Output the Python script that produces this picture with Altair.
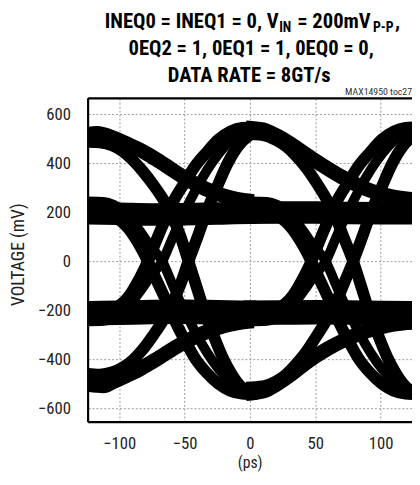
import altair as alt
import pandas as pd

# ---------------- data ----------------
X_TICKS = [-100, -50, 0, 50, 100]          # ps
Y_TICKS = [-600, -400, -200, 0, 200, 400, 600]  # mV

# left unit interval (-125 ps .. 0 ps)
L_HIGH_DECAY_T = [-126, -117, -105, -95, -85, -75, -65, -55, -45, -35, -25, -15, -5, 3]
L_HIGH_DECAY_V = [518, 522, 505, 482, 457, 427, 393, 358, 325, 298, 276, 260, 249, 244]
L_LOW_DECAY_T = [-126, -112, -105, -95, -85, -75, -65, -55, -45, -35, -25, -15, -5, 3]
L_LOW_DECAY_V = [-500, -508, -492, -468, -442, -411, -378, -345, -316, -292, -272, -257, -247, -243]
L_STEADY_HIGH_T = [-126, -100, -75, -50, -25, 0, 5]
L_STEADY_HIGH_V = [196, 194, 191, 192, 195, 198, 198]
L_STEADY_LOW_T = [-126, -100, -75, -50, -25, 0, 5]
L_STEADY_LOW_V = [-212, -210, -207, -206, -208, -210, -210]
L_FALL_PEAK_T = [-126, -115, -105, -97, -90, -82, -74, -66, -59, -53, -47, -41, -35, -28, -21, -14, -7, 0, 6]
L_FALL_PEAK_V = [488, 485, 472, 448, 415, 368, 313, 250, 180, 100, 0, -100, -200, -300, -390, -460, -510, -535, -540]
L_RISE_TROUGH_T = [-126, -115, -105, -97, -90, -82, -74, -66, -59, -53, -47, -40, -33, -25, -17, -9, -1, 7]
L_RISE_TROUGH_V = [-458, -462, -452, -432, -405, -360, -302, -237, -167, -92, 0, 100, 205, 305, 400, 470, 512, 530]
L_FALL_STEADY_T = [-126, -112, -104, -98, -92, -87, -82, -78, -72, -65, -58, -50, -42, -33, -24, -15, -6, 3]
L_FALL_STEADY_V = [196, 194, 182, 162, 128, 88, 42, 0, -70, -150, -235, -320, -395, -455, -500, -528, -540, -542]
L_RISE_STEADY_T = [-126, -112, -104, -98, -92, -87, -82, -78, -72, -65, -58, -50, -42, -33, -24, -15, -6, 3]
L_RISE_STEADY_V = [-210, -207, -195, -173, -138, -95, -45, 0, 80, 168, 250, 320, 388, 445, 497, 530, 545, 547]
L_FALL_DECAYED_T = [-126, -112, -104, -97, -90, -83, -76, -67, -60, -53, -45, -37, -28, -19, -10, -1, 6]
L_FALL_DECAYED_V = [245, 243, 230, 205, 165, 115, 60, 0, -85, -170, -255, -335, -410, -470, -515, -538, -545]
L_RISE_DECAYED_T = [-126, -112, -104, -97, -90, -83, -76, -67, -60, -53, -45, -37, -28, -19, -10, -1, 6]
L_RISE_DECAYED_V = [-245, -243, -230, -205, -165, -115, -60, 0, 85, 170, 255, 335, 410, 470, 515, 538, 545]

# right unit interval (0 ps .. 125 ps)
R_HIGH_DECAY_T = [-3, 10, 20, 30, 40, 50, 60, 70, 80, 90, 100, 110, 120, 126]
R_HIGH_DECAY_V = [545, 537, 514, 483, 447, 411, 377, 345, 317, 293, 275, 263, 255, 252]
R_LOW_DECAY_T = [-3, 10, 20, 30, 40, 50, 60, 70, 80, 90, 100, 110, 120, 126]
R_LOW_DECAY_V = [-540, -530, -503, -467, -426, -388, -355, -327, -303, -283, -268, -257, -250, -248]
R_STEADY_HIGH_T = [-5, 25, 50, 75, 100, 126]
R_STEADY_HIGH_V = [198, 199, 199, 197, 196, 196]
R_STEADY_LOW_T = [-5, 25, 50, 75, 100, 126]
R_STEADY_LOW_V = [-210, -209, -208, -209, -211, -212]
R_FALL_PEAK_T = [-3, 10, 20, 28, 35, 43, 51, 59, 66, 72, 79, 85, 91, 98, 105, 112, 119, 126]
R_FALL_PEAK_V = [520, 515, 495, 468, 432, 382, 320, 250, 175, 95, 0, -100, -200, -300, -390, -460, -510, -535]
R_RISE_TROUGH_T = [-3, 10, 20, 28, 35, 43, 51, 59, 66, 72, 79, 86, 93, 101, 109, 117, 125]
R_RISE_TROUGH_V = [-515, -510, -490, -460, -422, -370, -305, -237, -165, -90, 0, 100, 205, 305, 400, 470, 512]
R_FALL_STEADY_T = [-1, 13, 21, 27, 33, 38, 43, 47, 53, 60, 67, 75, 83, 92, 101, 110, 119, 126]
R_FALL_STEADY_V = [198, 196, 184, 163, 128, 88, 42, 0, -70, -150, -235, -320, -395, -455, -500, -528, -540, -542]
R_RISE_STEADY_T = [-1, 13, 21, 27, 33, 38, 43, 47, 53, 60, 67, 75, 83, 92, 101, 110, 119, 126]
R_RISE_STEADY_V = [-210, -207, -195, -173, -138, -95, -45, 0, 80, 168, 250, 320, 388, 445, 497, 530, 545, 547]
R_FALL_DECAYED_T = [-1, 13, 21, 28, 35, 42, 49, 58, 65, 72, 80, 88, 97, 106, 115, 122, 128]
R_FALL_DECAYED_V = [245, 243, 230, 205, 165, 115, 60, 0, -85, -170, -255, -335, -410, -470, -515, -538, -545]
R_RISE_DECAYED_T = [-1, 13, 21, 28, 35, 42, 49, 58, 65, 72, 80, 88, 97, 106, 115, 122, 128]
R_RISE_DECAYED_V = [-245, -243, -230, -205, -165, -115, -60, 0, 85, 170, 255, 335, 410, 470, 515, 538, 545]

SEGMENTS = [
    ("L_high_decay", L_HIGH_DECAY_T, L_HIGH_DECAY_V, 15),
    ("L_low_decay", L_LOW_DECAY_T, L_LOW_DECAY_V, 15),
    ("L_steady_high", L_STEADY_HIGH_T, L_STEADY_HIGH_V, 23),
    ("L_steady_low", L_STEADY_LOW_T, L_STEADY_LOW_V, 25),
    ("L_fall_peak", L_FALL_PEAK_T, L_FALL_PEAK_V, 12),
    ("L_rise_trough", L_RISE_TROUGH_T, L_RISE_TROUGH_V, 12),
    ("L_fall_steady", L_FALL_STEADY_T, L_FALL_STEADY_V, 12),
    ("L_rise_steady", L_RISE_STEADY_T, L_RISE_STEADY_V, 12),
    ("L_fall_decayed", L_FALL_DECAYED_T, L_FALL_DECAYED_V, 10),
    ("L_rise_decayed", L_RISE_DECAYED_T, L_RISE_DECAYED_V, 10),
    ("R_high_decay", R_HIGH_DECAY_T, R_HIGH_DECAY_V, 15),
    ("R_low_decay", R_LOW_DECAY_T, R_LOW_DECAY_V, 15),
    ("R_steady_high", R_STEADY_HIGH_T, R_STEADY_HIGH_V, 23),
    ("R_steady_low", R_STEADY_LOW_T, R_STEADY_LOW_V, 25),
    ("R_fall_peak", R_FALL_PEAK_T, R_FALL_PEAK_V, 12),
    ("R_rise_trough", R_RISE_TROUGH_T, R_RISE_TROUGH_V, 12),
    ("R_fall_steady", R_FALL_STEADY_T, R_FALL_STEADY_V, 12),
    ("R_rise_steady", R_RISE_STEADY_T, R_RISE_STEADY_V, 12),
    ("R_fall_decayed", R_FALL_DECAYED_T, R_FALL_DECAYED_V, 10),
    ("R_rise_decayed", R_RISE_DECAYED_T, R_RISE_DECAYED_V, 10),
]

rows = []
for name, ts, vs, w in SEGMENTS:
    for i, (t, v) in enumerate(zip(ts, vs)):
        rows.append({"seg": name, "i": i, "t": t, "v": v, "w": w})
df = pd.DataFrame(rows)

# ---------------- layout ----------------
W = 330.3
H = 330.2
FONT = "Liberation Sans Narrow, Roboto Condensed, DejaVu Sans Condensed, sans-serif"

xs = alt.Scale(domain=[-123.75, 124], nice=False, zero=False)
ys = alt.Scale(domain=[-656, 665], nice=False, zero=False)

lines = alt.Chart(df).mark_line(
    color="black", clip=True, interpolate="monotone",
    strokeJoin="round", strokeCap="butt"
).encode(
    x=alt.X("t:Q", scale=xs, axis=alt.Axis(
        values=X_TICKS, title=None, grid=True, ticks=False, tickSize=0, domain=False,
        labelFont=FONT, labelFontSize=17, labelColor="#222", labelPadding=14,
        labelFlush=False, labelOverlap=False,
        gridColor="#9a9a9a", gridDash=[2, 2], gridWidth=1)),
    y=alt.Y("v:Q", scale=ys, axis=alt.Axis(
        values=Y_TICKS, title=None, grid=True, ticks=False, tickSize=0, domain=False,
        labelFont=FONT, labelFontSize=17, labelColor="#222", labelPadding=18,
        labelFlush=False, labelOverlap=False,
        gridColor="#9a9a9a", gridDash=[2, 2], gridWidth=1)),
    detail="seg:N",
    order="i:Q",
    strokeWidth=alt.StrokeWidth("w:Q", scale=None),
)

one = alt.Data(values=[{"k": 1}])


def txt(s, x, y, size, align="center", weight="bold", angle=0, color="black", baseline="alphabetic"):
    return alt.Chart(one).mark_text(
        text=s, align=align, baseline=baseline, fontSize=size, fontWeight=weight,
        font=FONT, color=color, angle=angle
    ).encode(x=alt.value(x), y=alt.value(y))


texts = [
    txt("INEQ0 = INEQ1 = 0, V", 194.3, -71.5, 21, align="right"),
    txt("IN", 194.8, -68, 14, align="left"),
    txt("= 200mV", 213.3, -71.5, 21, align="left"),
    txt("P-P", 290.5, -68, 14, align="left"),
    txt(",", 313, -71.5, 21, align="left"),
    txt("0EQ2 = 1, 0EQ1 = 1, 0EQ0 = 0,", 166.3, -44.5, 21),
    txt("DATA RATE = 8GT/s", 164.3, -17, 21),
    txt("MAX14950 toc27", 330.3, -3.5, 10, align="right", weight="normal", color="#333"),
    txt("VOLTAGE (mV)", -70.7, 159.5, 18, weight="normal", angle=270, color="#222", baseline="middle"),
    txt("(ps)", 165.3, 377, 16, weight="normal", color="#222"),
]

frame = [
    alt.Chart(one).mark_rule(color="black", strokeWidth=2.2).encode(
        x=alt.value(0), y=alt.value(0), y2=alt.value(H)),
    alt.Chart(one).mark_rule(color="black", strokeWidth=2.2).encode(
        x=alt.value(0), x2=alt.value(W + 2), y=alt.value(0)),
    alt.Chart(one).mark_rule(color="black", strokeWidth=2.2).encode(
        x=alt.value(0), x2=alt.value(W + 2), y=alt.value(H)),
]

chart = alt.layer(lines, *frame, *texts).properties(
    width=W, height=H,
    padding={"left": 81.7, "top": 87.5, "right": 0, "bottom": 51},
    autosize=alt.AutoSizeParams(type="none"),
).configure_view(stroke=None)

chart.save("out.html", embed_options={"renderer": "svg", "actions": False})
